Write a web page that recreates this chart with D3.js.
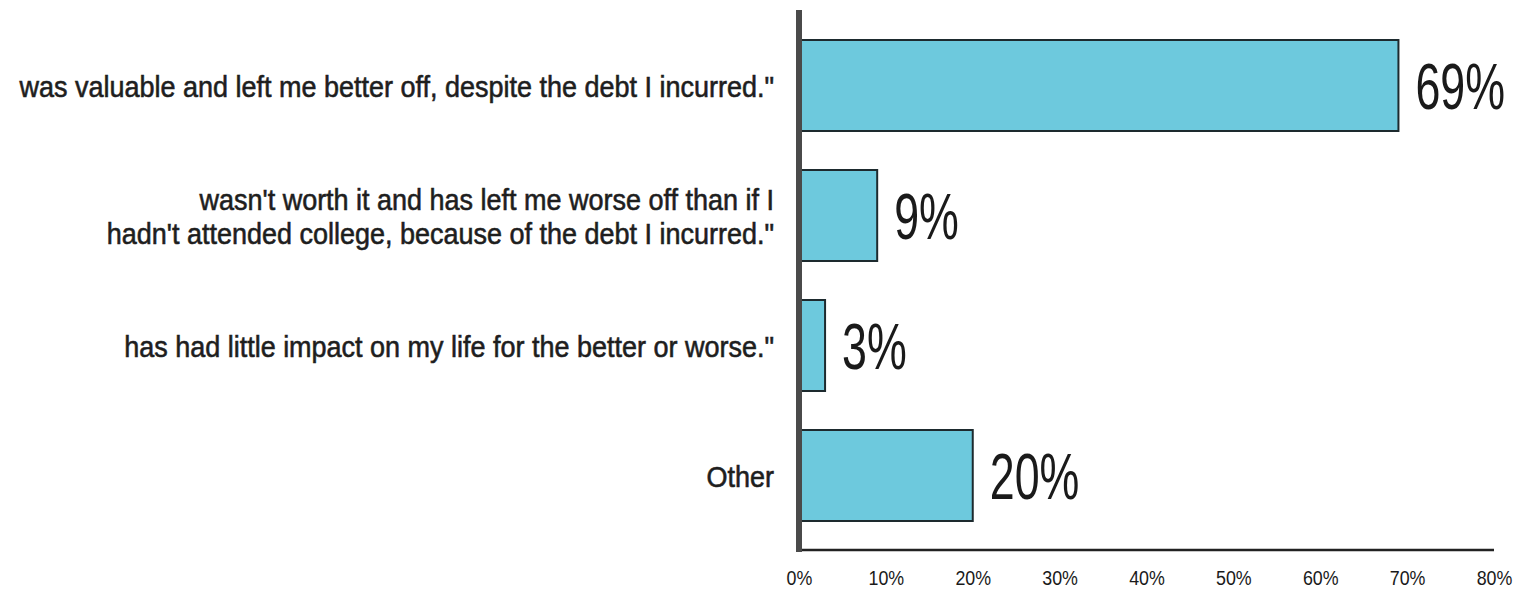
<!DOCTYPE html>
<html>
<head>
<meta charset="utf-8">
<script src="https://cdn.jsdelivr.net/npm/d3@7"></script>
<style>
  html, body { margin: 0; padding: 0; background: #fff; }
  svg { display: block; }
</style>
</head>
<body>
<svg id="chart" width="1529" height="590"></svg>
<script>
// Survey responses: "My college education ..."
const categories = [
  ["was valuable and left me better off, despite the debt I incurred.\""],
  ["wasn't worth it and has left me worse off than if I", "hadn't attended college, because of the debt I incurred.\""],
  ["has had little impact on my life for the better or worse.\""],
  ["Other"]
];
const values = [69, 9, 3, 20];
const tickValues = [0, 10, 20, 30, 40, 50, 60, 70, 80];

const svg = d3.select("#chart");

const x = d3.scaleLinear().domain([0, 80]).range([799, 1494]);
const y = d3.scaleBand()
  .domain(d3.range(values.length))
  .range([40, 521])
  .paddingInner(0.3)
  .paddingOuter(0);

const font = "'Liberation Sans', Arial, sans-serif";

// bars
svg.append("g").selectAll("rect")
  .data(values)
  .join("rect")
  .attr("x", x(0) + 2)
  .attr("y", (d, i) => y(i))
  .attr("width", d => x(d) - x(0) - 2)
  .attr("height", y.bandwidth())
  .attr("fill", "#6dc9dd")
  .attr("stroke", "#1d2a2e")
  .attr("stroke-width", 2);

// value labels (condensed by horizontal scaling)
svg.append("g").selectAll("text")
  .data(values)
  .join("text")
  .attr("transform", (d, i) => `translate(${x(d) + 17},${y(i) + y.bandwidth() / 2}) scale(0.7,1)`)
  .attr("dy", "0.36em")
  .attr("font-family", font)
  .attr("font-size", 64)
  .attr("fill", "#1a1a1a")
  .text(d => d + "%");

// category labels
const cat = svg.append("g").selectAll("text")
  .data(categories)
  .join("text")
  .attr("text-anchor", "end")
  .attr("font-family", font)
  .attr("font-size", 30)
  .attr("fill", "#1e1e1e")
  .attr("stroke", "#1e1e1e")
  .attr("stroke-width", 0.6)
  .attr("transform", (d, i) => `translate(774,${y(i) + y.bandwidth() / 2 + 2}) scale(0.9,1)`);
cat.each(function(lines) {
  const t = d3.select(this);
  const lh = 34;
  const off = -(lines.length - 1) * lh / 2;
  lines.forEach((ln, k) => {
    t.append("tspan").attr("x", 0).attr("y", off + k * lh).attr("dy", "0.3em").text(ln);
  });
});

// x axis
const xAxis = d3.axisBottom(x)
  .tickValues(tickValues)
  .tickSize(0)
  .tickPadding(20)
  .tickFormat(d => d + "%");
const gx = svg.append("g")
  .attr("transform", "translate(0,550)")
  .call(xAxis);
gx.select(".domain").attr("stroke", "#222").attr("stroke-width", 2.5)
  .attr("d", `M${x(0) - 3},0H${x(80)}`);
gx.selectAll("text")
  .attr("font-family", font)
  .attr("font-size", 21)
  .attr("fill", "#1a1a1a")
  .attr("transform", "scale(0.85,1)");

// vertical baseline
svg.append("line")
  .attr("x1", x(0)).attr("x2", x(0))
  .attr("y1", 10).attr("y2", 552)
  .attr("stroke", "#4a4a4a")
  .attr("stroke-width", 6);
</script>
</body>
</html>
